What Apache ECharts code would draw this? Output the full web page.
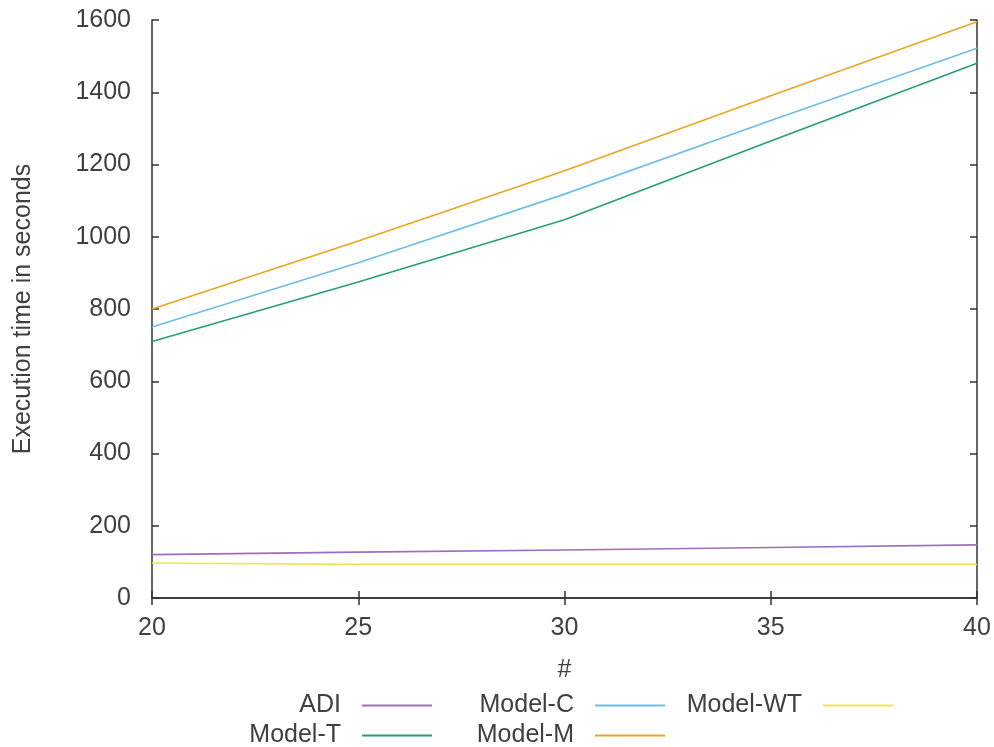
<!DOCTYPE html>
<html>
<head>
<meta charset="utf-8">
<script src="https://cdn.jsdelivr.net/npm/echarts@6/dist/echarts.min.js"></script>
<style>
html,body{margin:0;padding:0;background:#fff;}
#chart{width:994px;height:747px;}
</style>
</head>
<body>
<div id="chart"></div>
<script>
const xValues = [20, 25, 30, 35, 40];
const adi = [120, 127, 133, 140, 147];
const modelT = [710, 875, 1047, 1265, 1480];
const modelC = [750, 928, 1118, 1322, 1522];
const modelM = [800, 988, 1183, 1390, 1595];
const modelWT = [97, 93, 93, 93, 93];
const yTicks = [0, 200, 400, 600, 800, 1000, 1200, 1400, 1600];
const xTicks = [20, 25, 30, 35, 40];

const seriesNames = ['ADI', 'Model-T', 'Model-C', 'Model-M', 'Model-WT'];
const seriesData = [adi, modelT, modelC, modelM, modelWT];
const colors = ['#a06cc0', '#259f77', '#6cbde9', '#eba522', '#f0e550'];

const FONT = 'Liberation Sans';
const TXT = '#404040';
const AX = '#333333';

const chart = echarts.init(document.getElementById('chart'), null, {renderer: 'canvas'});

const series = seriesNames.map((n, i) => ({
  name: n,
  type: 'line',
  xAxisIndex: 0,
  yAxisIndex: 0,
  showSymbol: false,
  symbol: 'none',
  color: colors[i],
  lineStyle: {width: 1.6, color: colors[i]},
  data: xValues.map((x, j) => [x, seriesData[i][j]])
}));

// legend layout: column (by right edge of sample line), row
const legendPos = [
  {name: 'ADI', right: 562, top: 693},
  {name: 'Model-T', right: 562, top: 723},
  {name: 'Model-C', right: 329, top: 693},
  {name: 'Model-M', right: 329, top: 723},
  {name: 'Model-WT', right: 101, top: 693}
];

const legends = legendPos.map(p => ({
  data: [p.name],
  right: p.right,
  top: p.top,
  align: 'right',
  orient: 'horizontal',
  icon: 'rect',
  itemWidth: 70,
  itemHeight: 2,
  selectedMode: false,
  padding: 0,
  textStyle: {fontFamily: FONT, fontSize: 25, color: TXT, padding: [0, 16, 0, 0]}
}));

const baseX = {
  type: 'value', min: 20, max: 40, interval: 5,
  axisLine: {show: true, lineStyle: {color: AX, width: 1.5}},
  axisTick: {show: true, inside: true, length: 7, lineStyle: {color: AX, width: 1.5}},
  splitLine: {show: false}
};
const baseY = {
  type: 'value', min: 0, max: 1600, interval: 200,
  axisLine: {show: true, lineStyle: {color: AX, width: 1.5}},
  axisTick: {show: true, inside: true, length: 7, lineStyle: {color: AX, width: 1.5}},
  splitLine: {show: false}
};

chart.setOption({
  animation: false,
  backgroundColor: '#ffffff',
  grid: {left: 152, right: 17, top: 20, bottom: 149, containLabel: false},
  legend: legends,
  xAxis: [
    Object.assign({}, baseX, {
      position: 'bottom',
      name: '#',
      nameLocation: 'middle',
      nameGap: 60,
      nameTextStyle: {fontFamily: FONT, fontSize: 25, color: TXT},
      axisLabel: {show: true, margin: 18, fontFamily: FONT, fontSize: 25, color: TXT,
        formatter: v => xTicks.includes(v) ? String(v) : ''}
    }),
    Object.assign({}, baseX, {position: 'top', axisLabel: {show: false}})
  ],
  yAxis: [
    Object.assign({}, baseY, {
      position: 'left',
      name: 'Execution time in seconds',
      nameLocation: 'middle',
      nameGap: 116,
      nameTextStyle: {fontFamily: FONT, fontSize: 25, color: TXT},
      axisLabel: {show: true, margin: 21, fontFamily: FONT, fontSize: 25, color: TXT,
        formatter: v => yTicks.includes(v) ? String(v) : ''}
    }),
    Object.assign({}, baseY, {position: 'right', axisLabel: {show: false}})
  ],
  series: series
});
</script>
</body>
</html>
